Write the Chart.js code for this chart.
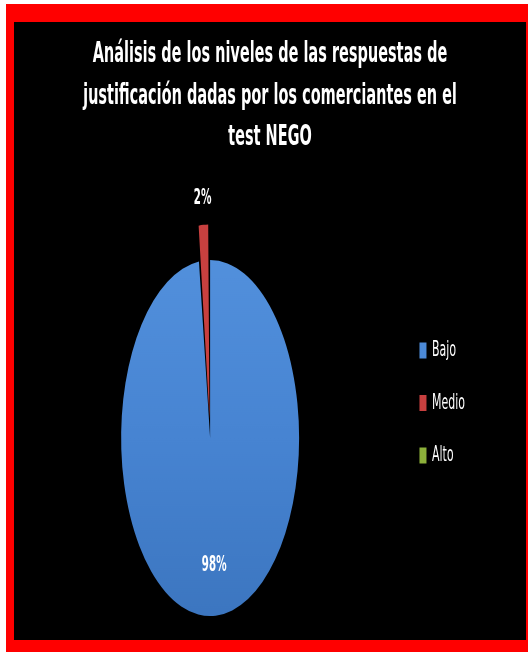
<!DOCTYPE html>
<html>
<head>
<meta charset="utf-8">
<script src="https://cdn.jsdelivr.net/npm/chart.js@4/dist/chart.umd.min.js"></script>
<style>
  body { margin: 0; background: #fff; }
  #frame { position: absolute; left: 6px; top: 4px; width: 522px; height: 648px; background: #ff0000; }
  #panel { position: absolute; left: 14px; top: 22px; width: 512px; height: 618px; background: #000; }
  #nego { position: absolute; left: 0; top: 0; }
</style>
</head>
<body>
<div id="frame"></div>
<div id="panel">
  <!-- drawn at half height, then stretched 2x vertically -->
  <canvas id="nego" width="512" height="309" style="width:512px;height:618px"></canvas>
</div>
<script>
const niveles = ['Bajo', 'Medio', 'Alto'];
const respuestas = [98, 2, 0];
const colores = ['#4a84cf', '#c8403f', '#8cb03a'];
const titulo = [
  'Análisis de los niveles de las respuestas de',
  'justificación dadas por los comerciantes en el',
  'test NEGO'
];
const fuente = '"DejaVu Sans", "Liberation Sans", Arial, sans-serif';

// percent labels: big slices inside, small ones outside the exploded tip
const etiquetas = {
  id: 'etiquetas',
  afterDatasetsDraw(chart) {
    const ctx = chart.ctx;
    const meta = chart.getDatasetMeta(0);
    const total = respuestas.reduce((a, b) => a + b, 0);
    ctx.save();
    ctx.fillStyle = '#fff';
    ctx.font = 'bold 10.5px ' + fuente;
    ctx.textAlign = 'center';
    ctx.textBaseline = 'middle';
    meta.data.forEach((arc, i) => {
      const v = respuestas[i];
      if (!v) return;
      const p = arc.getProps(['x', 'y', 'startAngle', 'endAngle', 'outerRadius']);
      const mid = (p.startAngle + p.endAngle) / 2;
      const share = v / total;
      // arcs are pushed out by half their offset
      const d = share < 0.05 ? p.outerRadius + arc.options.offset / 2 + 12 : p.outerRadius * 0.72;
      ctx.fillText(Math.round(share * 100) + '%', p.x + Math.cos(mid) * d, p.y + Math.sin(mid) * d);
    });
    ctx.restore();
  }
};

// the title spans the whole panel, not just the padded layout box
const tituloAncho = {
  id: 'tituloAncho',
  afterLayout(chart) {
    const t = chart.titleBlock;
    if (!t) return;
    t.left = 0;
    t.right = chart.width;
    t.width = chart.width;
  }
};

new Chart('nego', {
  type: 'pie',
  data: {
    labels: niveles,
    datasets: [{
      data: respuestas,
      backgroundColor: (c) => {
        if (c.dataIndex !== 0 || !c.chart.chartArea) return colores[c.dataIndex];
        const a = c.chart.chartArea;
        const cy = (a.top + a.bottom) / 2;
        const g = c.chart.ctx.createLinearGradient(0, cy - 89, 0, cy + 89);
        g.addColorStop(0, '#5290dc');
        g.addColorStop(0.5, '#4784d2');
        g.addColorStop(1, '#3c76c0');
        return g;
      },
      borderWidth: 0,
      radius: 89,
      offset: [0, 38, 0],
      clip: false
    }]
  },
  options: {
    responsive: false,
    devicePixelRatio: 2,
    animation: false,
    layout: { padding: { left: 2, right: 51, top: 0, bottom: 36.5 } },
    plugins: {
      title: {
        display: true,
        text: titulo,
        color: '#fff',
        font: { family: fuente, size: 14.5, weight: 'bold', lineHeight: 1.431 },
        padding: { top: 6, bottom: 75.25 }
      },
      legend: {
        position: 'right',
        align: 'start',
        fullSize: false,
        labels: {
          color: '#fff',
          boxWidth: 7,
          boxHeight: 8,
          padding: 15.25,
          font: { family: fuente, size: 11 }
        }
      },
      tooltip: { enabled: false }
    }
  },
  plugins: [etiquetas, tituloAncho]
});
</script>
</body>
</html>
